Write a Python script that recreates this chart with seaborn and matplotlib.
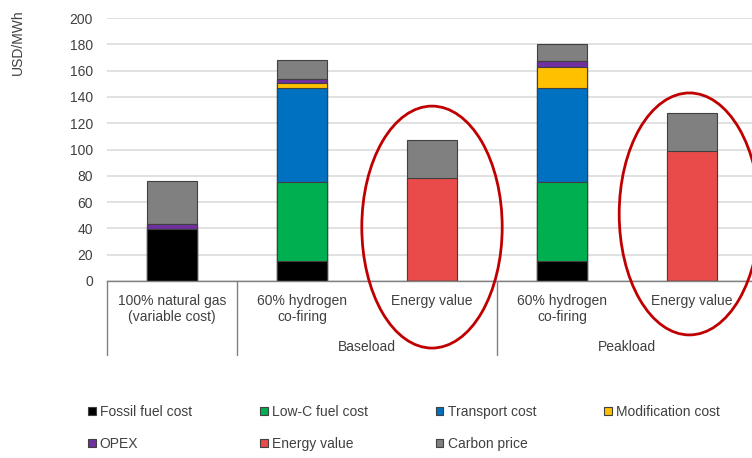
import numpy as np
import pandas as pd
import matplotlib
matplotlib.use("Agg")
import matplotlib.pyplot as plt
from matplotlib.patches import Ellipse, Patch
from matplotlib.lines import Line2D
import seaborn as sns

# Bar slots (left to right) and their axis labels
slots = ["gas", "base_h2", "base_ev", "peak_h2", "peak_ev"]
slot_labels = ["100% natural gas\n(variable cost)", "60% hydrogen\nco-firing", "Energy value",
               "60% hydrogen\nco-firing", "Energy value"]
groups = ["Baseload", "Peakload"]

# Cost components, USD/MWh
fossil_fuel = [39.5, 15.0, 0.0, 15.5, 0.0]
low_c_fuel = [0.0, 60.5, 0.0, 60.0, 0.0]
transport = [0.0, 71.5, 0.0, 71.5, 0.0]
modification = [0.0, 3.3, 0.0, 16.0, 0.0]
opex = [3.5, 3.5, 0.0, 4.3, 0.0]
energy_value = [0.0, 0.0, 78.0, 0.0, 99.0]
carbon_price = [33.0, 14.0, 29.0, 13.0, 29.0]

series_names = ["Fossil fuel cost", "Low-C fuel cost", "Transport cost", "Modification cost",
                "OPEX", "Energy value", "Carbon price"]
series_values = [fossil_fuel, low_c_fuel, transport, modification, opex, energy_value, carbon_price]
series_colors = ["#000000", "#00B050", "#0070C0", "#FFC000", "#7030A0", "#E84B4A", "#808080"]

sns.set_theme(style="white")
plt.rcParams["font.family"] = ["Liberation Sans", "DejaVu Sans"]

W, H = 752, 458
fig = plt.figure(figsize=(W / 100, H / 100), dpi=100)

# Axes placed in pixel terms: x from 107 to the right edge, y from 281 (0) to 18 (200)
x0, x1 = 107, 752
y0, y1 = 281, 18
ax = fig.add_axes([x0 / W, (H - y0) / H, (x1 - x0) / W, (y0 - y1) / H])

# Stacked bars: draw cumulative totals from the top layer down
stack = pd.DataFrame(np.array(series_values).T, index=slots, columns=series_names)
cumulative = stack.cumsum(axis=1)
for name, color in reversed(list(zip(series_names, series_colors))):
    sns.barplot(x=slots, y=cumulative[name].values, order=slots, color=color, saturation=1,
                width=0.39, edgecolor="#404040", linewidth=0.8, errorbar=None, ax=ax)

# Category spans are 130 px wide; axes start at the left border of the first span
ax.set_xlim(-0.5, -0.5 + (x1 - x0) / 130)
ax.set_ylim(0, 200)
ax.set_yticks(np.arange(0, 201, 20))
ax.tick_params(axis="y", length=0, pad=10, labelsize=10, labelcolor="#404040")
ax.set_xticks([])
ax.set_xlabel("")
ax.set_axisbelow(True)
ax.yaxis.grid(True, color="#D9D9D9", linewidth=1.1)
for side in ["left", "right", "top"]:
    ax.spines[side].set_visible(False)
ax.spines["bottom"].set_color("#808080")
ax.spines["bottom"].set_linewidth(1.0)

# Category labels under the axis and vertical separators
trans = ax.get_xaxis_transform()
def px_to_axes_y(py):
    return (y0 - py) / (y0 - y1)

for i, lab in enumerate(slot_labels):
    ax.text(i, px_to_axes_y(294), lab, transform=trans, ha="center", va="top",
            fontsize=10, color="#404040", linespacing=1.15)
for gi, g in enumerate(groups):
    ax.text(1.5 + 2 * gi, px_to_axes_y(347), g, transform=trans, ha="center", va="center",
            fontsize=10, color="#404040")
for xs in [-0.5, 0.5, 2.5]:
    ax.add_line(Line2D([xs, xs], [0, px_to_axes_y(355)], transform=trans, color="#808080",
                       linewidth=1.0, clip_on=False))

# Red ellipses around the energy-value bars
for cx, cy in [(2.0, 41.0), (3.98, 51.0)]:
    ax.add_patch(Ellipse((cx, cy), width=1.08, height=184, fill=False, edgecolor="#C00000",
                         linewidth=2.0, clip_on=False, zorder=5))

fig.text(18 / W, (H - 42) / H, "USD/MWh", rotation=90, ha="center", va="center",
         fontsize=10, color="#404040")

# Legend: row-wise reading order, filled column by column
order = [0, 4, 1, 5, 2, 6, 3]
handles = [Patch(facecolor=series_colors[k], edgecolor="#404040", linewidth=0.8) for k in order]
labels = [series_names[k] for k in order]
fig.legend(handles, labels, ncol=4, loc="upper left", bbox_to_anchor=(88 / W, (H - 405) / H),
           frameon=False, fontsize=10, handlelength=0.55, handleheight=0.55, handletextpad=0.3,
           columnspacing=4.9, labelspacing=1.3, borderpad=0, borderaxespad=0,
           labelcolor="#404040")

fig.savefig("out.png", dpi=100)
